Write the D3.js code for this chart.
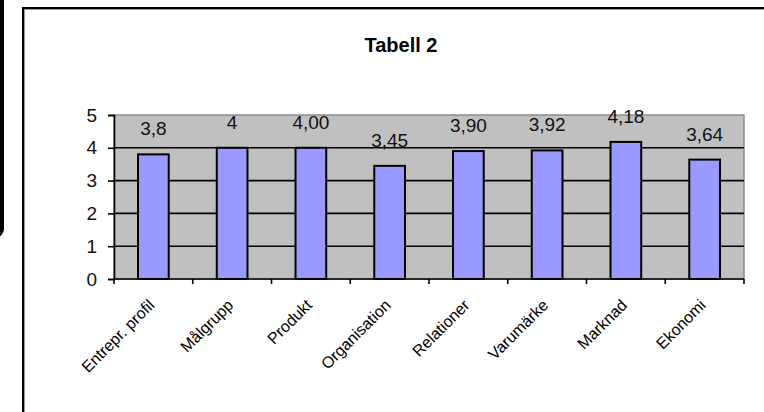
<!DOCTYPE html>
<html>
<head>
<meta charset="utf-8">
<script src="https://cdn.jsdelivr.net/npm/d3@7"></script>
<style>
  html, body { margin: 0; padding: 0; background: #fff; }
  svg { display: block; }
  text { font-family: Arial, "Liberation Sans", sans-serif; }
</style>
</head>
<body>
<svg id="chart" width="764" height="412"></svg>
<script>
const categories = ["Entrepr. profil", "Målgrupp", "Produkt", "Organisation", "Relationer", "Varumärke", "Marknad", "Ekonomi"];
const values = [3.8, 4, 4.00, 3.45, 3.90, 3.92, 4.18, 3.64];
const valueLabels = ["3,8", "4", "4,00", "3,45", "3,90", "3,92", "4,18", "3,64"];
const yTicks = [0, 1, 2, 3, 4, 5];
const title = "Tabell 2";

const svg = d3.select("#chart");

// left neighbouring frame (partially visible)
svg.append("rect").attr("x", -20).attr("y", -20).attr("width", 22).attr("height", 256)
  .attr("rx", 7).attr("fill", "none").attr("stroke", "#000").attr("stroke-width", 4);

// chart area frame
svg.append("rect").attr("x", 23).attr("y", 8).attr("width", 800).attr("height", 500)
  .attr("fill", "#fff").attr("stroke", "#000").attr("stroke-width", 2);
svg.append("rect").attr("x", 24.5).attr("y", 9.5).attr("width", 800).attr("height", 500)
  .attr("fill", "none").attr("stroke", "#9a9a9a").attr("stroke-width", 1);

const plot = { left: 114, right: 744, top: 115, bottom: 279 };

const x = d3.scaleBand().domain(categories).range([plot.left, plot.right]).padding(0);
const y = d3.scaleLinear().domain([0, 5]).range([plot.bottom, plot.top]);

// title
svg.append("text").attr("x", 401).attr("y", 52).attr("text-anchor", "middle")
  .attr("font-weight", "bold").attr("font-size", 20).attr("fill", "#000").text(title);

// plot background
svg.append("rect").attr("x", plot.left).attr("y", plot.top)
  .attr("width", plot.right - plot.left).attr("height", plot.bottom - plot.top)
  .attr("fill", "#c0c0c0").attr("stroke", "#8c8c8c").attr("stroke-width", 1.5);

// gridlines
svg.append("g").selectAll("line").data(yTicks.filter(d => d > 0 && d < 5)).join("line")
  .attr("x1", plot.left).attr("x2", plot.right)
  .attr("y1", d => y(d)).attr("y2", d => y(d))
  .attr("stroke", "#000").attr("stroke-width", 1.6);

// bars
const barW = x.bandwidth() * 0.39;
svg.append("g").selectAll("rect").data(values).join("rect")
  .attr("x", (d, i) => x(categories[i]) + x.bandwidth() / 2 - barW / 2)
  .attr("y", d => y(d))
  .attr("width", barW)
  .attr("height", d => y(0) - y(d))
  .attr("fill", "#9999ff").attr("stroke", "#000").attr("stroke-width", 2);

// value labels
svg.append("g").selectAll("text").data(values).join("text")
  .attr("x", (d, i) => x(categories[i]) + x.bandwidth() / 2)
  .attr("y", d => y(d) - 19)
  .attr("text-anchor", "middle").attr("font-size", 19).attr("fill", "#111")
  .text((d, i) => valueLabels[i]);

// y axis
const yAxis = d3.axisLeft(y).tickValues(yTicks).tickSize(6).tickPadding(11).tickFormat(d3.format("d"));
const gy = svg.append("g").attr("transform", `translate(${plot.left},0)`).call(yAxis);
gy.select(".domain").attr("stroke", "#000").attr("stroke-width", 1.6);
gy.selectAll(".tick line").attr("stroke", "#000").attr("stroke-width", 1.6);
gy.selectAll(".tick text").attr("font-size", 19).attr("fill", "#111")
  .attr("font-family", "Arial, 'Liberation Sans', sans-serif");

// x axis: tick marks at category boundaries
const gx = svg.append("g");
gx.append("line").attr("x1", plot.left).attr("x2", plot.right)
  .attr("y1", plot.bottom).attr("y2", plot.bottom).attr("stroke", "#000").attr("stroke-width", 1.6);
const boundaries = categories.map(c => x(c)).concat([x.range()[1]]);
gx.selectAll("line.tk").data(boundaries).join("line").attr("class", "tk")
  .attr("x1", d => d).attr("x2", d => d)
  .attr("y1", plot.bottom).attr("y2", plot.bottom + 5)
  .attr("stroke", "#000").attr("stroke-width", 1.6);

// category labels rotated
gx.selectAll("text").data(categories).join("text")
  .attr("transform", d => `translate(${x(d) + x.bandwidth() / 2 - 6},${plot.bottom + 19}) rotate(-45)`)
  .attr("text-anchor", "end").attr("dy", "0.72em")
  .attr("font-size", 16).attr("fill", "#000")
  .text(d => d);
</script>
</body>
</html>
